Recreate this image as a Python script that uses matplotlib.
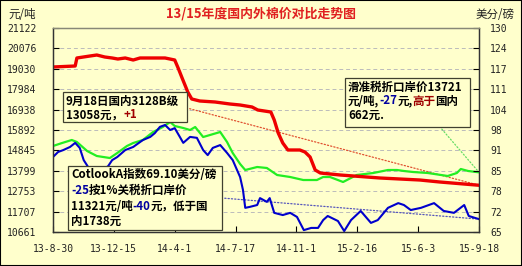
import matplotlib
matplotlib.use("Agg")
import matplotlib.pyplot as plt
import matplotlib.dates as mdates
from matplotlib.patches import Rectangle
import pandas as pd

plt.rcParams["font.family"] = ["Noto Sans CJK SC", "DejaVu Sans"]

START = pd.Timestamp("2013-08-30")
END = pd.Timestamp("2015-09-18")

TICK_DATES = ["2013-08-30", "2013-12-15", "2014-04-01", "2014-07-17",
              "2014-11-01", "2015-02-16", "2015-06-03", "2015-09-18"]
TICK_LABELS = ["13-8-30", "13-12-15", "14-4-1", "14-7-17",
               "14-11-1", "15-2-16", "15-6-3", "15-9-18"]

LEFT_TICKS = [10661, 11707, 12753, 13799, 14845, 15892,
              16938, 17984, 19030, 20076, 21122]
RIGHT_TICKS = [65, 71.5, 78, 84.5, 91, 97.5, 104, 110.5, 117, 123.5, 130]
RIGHT_LABELS = ["65", "72", "78", "85", "91", "98",
                "104", "111", "117", "124", "130"]

# domestic 3128B price, yuan/ton (days since START)
RED_DAYS = [0, 39, 42, 65, 77, 91, 104, 114, 127, 141,
            153, 179, 197, 214, 220, 227, 232, 237, 244, 258,
            285, 311, 329, 350, 360, 383, 389, 396, 404, 413,
            434, 443, 452, 461, 470, 505, 575, 645, 680, 749]
RED_VALS = [19122, 19173, 19584, 19686, 19737, 19635, 19584, 19532, 19584, 19481,
            19584, 19584, 19584, 19481, 19071, 18558, 18199, 17840, 17481, 17379,
            17327, 17225, 17173, 17071, 16917, 16815, 16404, 15738, 15225, 14866,
            14866, 14763, 14507, 13840, 13686, 13584, 13430, 13327, 13225, 13058]

# sliding-tariff port price, yuan/ton
GREEN_DAYS = [0, 16, 33, 42, 60, 77, 100, 113, 130, 141,
              158, 176, 193, 206, 214, 229, 241, 250, 264, 276,
              294, 306, 316, 329, 338, 359, 376, 394, 417, 440,
              464, 475, 487, 510, 534, 563, 589, 605, 617, 633,
              659, 694, 710, 717, 730, 749]
GREEN_VALS = [15071, 15225, 15379, 15276, 14814, 14558, 14455, 14712, 15071, 15225,
              15379, 15789, 16045, 16302, 16097, 15994, 15891, 16045, 15532, 15635,
              15789, 15276, 14712, 14148, 13840, 13994, 13943, 13584, 13481, 13327,
              13327, 13481, 13481, 13225, 13584, 13686, 13840, 13840, 13789, 13738,
              13686, 13533, 13686, 13891, 13789, 13721]

# Cotlook A index, US cents/lb
BLUE_DAYS = [0, 9, 18, 30, 39, 47, 54, 65, 83, 97,
             104, 113, 127, 141, 158, 171, 179, 188, 197, 206,
             214, 223, 229, 241, 253, 264, 272, 281, 294, 306,
             316, 329, 334, 338, 346, 359, 364, 376, 381, 389,
             404, 417, 429, 441, 454, 466, 475, 483, 501, 512,
             524, 541, 559, 571, 589, 607, 617, 629, 647, 670,
             687, 705, 723, 731, 749]
BLUE_VALS = [88.9, 90.5, 91.1, 92.1, 93.4, 91.8, 87.9, 84.8, 84.1, 86.0,
             87.9, 88.9, 91.1, 92.1, 94.3, 95.3, 96.5, 98.5, 99.1, 97.5,
             98.1, 95.3, 93.4, 95.3, 95.0, 91.1, 89.5, 91.8, 92.7, 90.2,
             87.9, 82.5, 78.4, 72.7, 73.0, 73.6, 75.8, 74.6, 75.8, 71.1,
             70.4, 71.1, 69.8, 65.6, 66.3, 66.3, 68.8, 70.1, 68.5, 65.3,
             68.8, 71.7, 67.9, 68.8, 72.7, 74.2, 73.6, 72.0, 72.7, 74.2,
             71.7, 71.1, 73.6, 70.1, 69.1]

BG = "#FFFFCC"
W, H = 522, 266


def fx(px):
    return px / W


def fy(py):
    return 1 - py / H


def to_dates(days):
    return START + pd.to_timedelta(days, unit="D")


fig = plt.figure(figsize=(W / 100, H / 100), dpi=100)
fig.patch.set_facecolor(BG)
ax = fig.add_axes([fx(53), fy(232), fx(479) - fx(53), fy(28) - fy(232)])
ax.set_facecolor(BG)
ax2 = ax.twinx()

red_x = to_dates(RED_DAYS)
green_x = to_dates(GREEN_DAYS)
blue_x = to_dates(BLUE_DAYS)

ax.plot(green_x, GREEN_VALS, color="#22EE22", lw=1.6, zorder=3)
ax.plot(red_x, RED_VALS, color="#EE0000", lw=2.4, zorder=4)
ax2.plot(blue_x, BLUE_VALS, color="#0000CC", lw=1.5, zorder=2)

ax.set_xlim(START, END)
ax.set_ylim(LEFT_TICKS[0], LEFT_TICKS[-1])
ax2.set_ylim(RIGHT_TICKS[0], RIGHT_TICKS[-1])

ax.set_xticks(pd.to_datetime(TICK_DATES))
ax.set_xticklabels(TICK_LABELS)
ax.set_yticks(LEFT_TICKS)
ax.set_yticklabels([str(v) for v in LEFT_TICKS])
ax2.set_yticks(RIGHT_TICKS)
ax2.set_yticklabels(RIGHT_LABELS)

tick_font = dict(family="DejaVu Sans Mono", size=7)
for lab in ax.get_xticklabels() + ax.get_yticklabels() + ax2.get_yticklabels():
    lab.set_fontfamily("DejaVu Sans Mono")
    lab.set_fontsize(7)
    lab.set_color("#222222")
ax.tick_params(axis="x", direction="in", length=4, pad=9)
ax.tick_params(axis="y", direction="in", length=4, pad=12)
ax2.tick_params(axis="y", direction="in", length=4, pad=8)

for y in LEFT_TICKS[1:-1]:
    ax.axhline(y, color="#BBBBBB", lw=0.7, ls=(0, (4, 3)), zorder=1)

for a in (ax, ax2):
    for name, sp in a.spines.items():
        sp.set_color("#333333" if name != "top" else "#888877")
        sp.set_linewidth(0.9)

# connector lines from the boxes to the last points
ax.annotate("", xy=(red_x[-1], RED_VALS[-1]), xytext=(fx(187), fy(108)),
            textcoords="figure fraction",
            arrowprops=dict(arrowstyle="-", ls=":", color="#E05030", lw=0.9),
            zorder=2)
ax.annotate("", xy=(green_x[-1], GREEN_VALS[-1]), xytext=(fx(440), fy(127)),
            textcoords="figure fraction",
            arrowprops=dict(arrowstyle="-", ls=":", color="#66DD66", lw=0.9),
            zorder=2)
ax2.annotate("", xy=(blue_x[-1], BLUE_VALS[-1]), xytext=(fx(222), fy(198)),
             textcoords="figure fraction",
             arrowprops=dict(arrowstyle="-", ls=":", color="#5555BB", lw=0.9),
             zorder=1)


def box(x0, y0, x1, y1):
    r = Rectangle((fx(x0), fy(y1)), fx(x1) - fx(x0), fy(y0) - fy(y1),
                  transform=fig.transFigure, facecolor=BG, edgecolor="#404030",
                  lw=0.9, clip_on=False, zorder=10)
    ax2.add_patch(r)


def rich_line(x, y, parts, size=8.3):
    prev = None
    for s, c in parts:
        if prev is None:
            prev = ax2.text(fx(x), fy(y), s, color=c, transform=fig.transFigure,
                            ha="left", va="center", fontsize=size,
                            fontweight="bold", clip_on=False, zorder=11)
        else:
            prev = ax2.annotate(s, xy=(1, 0), xycoords=prev, ha="left",
                                va="bottom", color=c, fontsize=size,
                                fontweight="bold", annotation_clip=False,
                                zorder=11)


K = "#000000"
BL = "#0000A0"
DR = "#A00000"

box(63, 92, 187, 122)
rich_line(66, 101, [("9月18日国内3128B级", K)])
rich_line(66, 115, [("13058元，", K), ("+1", DR)])

box(68, 166, 222, 230)
rich_line(71, 175, [("CotlookA指数69.10美分/磅", K)])
rich_line(71, 190, [("-25", BL), ("按1%关税折口岸价", K)])
rich_line(71, 206, [("11321元/吨", K), ("-40", BL), ("元，低于国", K)])
rich_line(71, 221, [("内1738元", K)])

box(345, 78, 470, 127)
rich_line(348, 87, [("滑准税折口岸价13721", K)])
rich_line(348, 101, [("元/吨,", K), ("-27", BL), ("元,", K), ("高于", DR), ("国内", K)])
rich_line(348, 115, [("662元.", K)])

fig.text(0.5, fy(13), "13/15年度国内外棉价对比走势图", color="#E02020",
         fontsize=9.3, ha="center", va="center", fontweight="bold")
fig.text(fx(8), fy(15), "元/吨", color="#222222", fontsize=8.3,
         ha="left", va="center")
fig.text(fx(515), fy(15), "美分/磅", color="#222222", fontsize=8.3,
         ha="right", va="center")

fig.patches.append(Rectangle((0, 0), 1, 1, transform=fig.transFigure,
                             fill=False, edgecolor="#000000", lw=1.5))

fig.savefig("out.png", dpi=100, facecolor=fig.get_facecolor())
